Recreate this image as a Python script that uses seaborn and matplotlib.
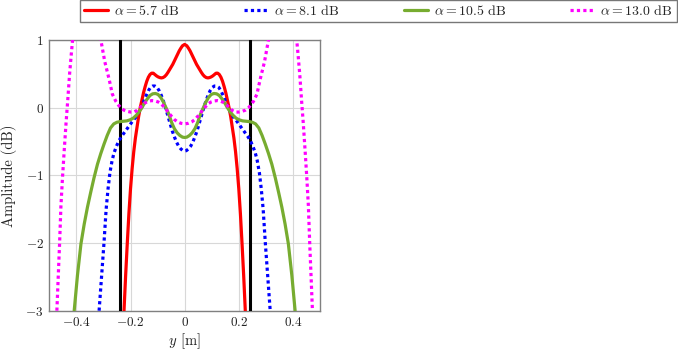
import matplotlib
matplotlib.use("Agg")
import matplotlib.pyplot as plt
import seaborn as sns
import pandas as pd

# ---------------- data ----------------
y_red = [-0.224, -0.218, -0.212, -0.206, -0.200, -0.194, -0.188, -0.182, -0.176, -0.170,
         -0.164, -0.158, -0.152, -0.146, -0.140, -0.134, -0.128, -0.122, -0.116, -0.110,
         -0.104, -0.098, -0.092, -0.086, -0.080, -0.074, -0.068, -0.062, -0.056, -0.050,
         -0.044, -0.038, -0.032, -0.026, -0.020, -0.014, -0.008, 0.000,
         0.008, 0.014, 0.020, 0.026, 0.032, 0.038, 0.044, 0.050, 0.056, 0.062,
         0.068, 0.074, 0.080, 0.086, 0.092, 0.098, 0.104, 0.110, 0.116, 0.122,
         0.128, 0.134, 0.140, 0.146, 0.152, 0.158, 0.164, 0.170, 0.176, 0.182,
         0.188, 0.194, 0.200, 0.206, 0.212, 0.218, 0.224]
a_red = [-3.00, -2.48, -2.01, -1.57, -1.20, -0.90, -0.65, -0.45, -0.29, -0.13,
         0.00, 0.11, 0.22, 0.31, 0.39, 0.45, 0.49, 0.51, 0.51, 0.49,
         0.47, 0.455, 0.445, 0.44, 0.445, 0.46, 0.485, 0.52, 0.56, 0.60,
         0.64, 0.69, 0.74, 0.79, 0.84, 0.88, 0.915, 0.935,
         0.915, 0.88, 0.84, 0.79, 0.74, 0.69, 0.64, 0.60, 0.56, 0.52,
         0.485, 0.46, 0.445, 0.44, 0.445, 0.455, 0.47, 0.49, 0.51, 0.51,
         0.49, 0.45, 0.39, 0.31, 0.22, 0.11, 0.00, -0.13, -0.29, -0.45,
         -0.65, -0.90, -1.20, -1.57, -2.01, -2.48, -3.00]

y_blue = [-0.316, -0.307, -0.298, -0.290, -0.283, -0.276, -0.268, -0.261, -0.252, -0.243,
          -0.234, -0.225, -0.216, -0.207, -0.198, -0.189, -0.180, -0.172, -0.164, -0.157,
          -0.150, -0.142, -0.134, -0.126, -0.118, -0.110, -0.102, -0.094, -0.086, -0.078,
          -0.070, -0.062, -0.054, -0.046, -0.038, -0.030, -0.022, -0.014, -0.006, 0.000,
          0.006, 0.014, 0.022, 0.030, 0.038, 0.046, 0.054, 0.062, 0.070, 0.078,
          0.086, 0.094, 0.102, 0.110, 0.118, 0.126, 0.134, 0.142, 0.150, 0.157,
          0.164, 0.172, 0.180, 0.189, 0.198, 0.207, 0.216, 0.225, 0.234, 0.243,
          0.252, 0.261, 0.268, 0.276, 0.283, 0.290, 0.298, 0.307, 0.316]
a_blue = [-3.00, -2.50, -2.00, -1.50, -1.20, -0.96, -0.78, -0.67, -0.57, -0.49,
          -0.43, -0.38, -0.33, -0.28, -0.23, -0.18, -0.14, -0.08, -0.03, 0.02,
          0.10, 0.18, 0.25, 0.30, 0.32, 0.32, 0.30, 0.25, 0.18, 0.09,
          -0.01, -0.12, -0.23, -0.34, -0.43, -0.51, -0.57, -0.61, -0.635, -0.64,
          -0.635, -0.61, -0.57, -0.51, -0.43, -0.34, -0.23, -0.12, -0.01, 0.09,
          0.18, 0.25, 0.30, 0.32, 0.32, 0.30, 0.25, 0.18, 0.10, 0.02,
          -0.03, -0.08, -0.14, -0.18, -0.23, -0.28, -0.33, -0.38, -0.43, -0.49,
          -0.57, -0.67, -0.78, -0.96, -1.20, -1.50, -2.00, -2.50, -3.00]

y_green = [-0.408, -0.396, -0.383, -0.371, -0.359, -0.347, -0.335, -0.322, -0.310, -0.298,
           -0.286, -0.274, -0.262, -0.250, -0.238, -0.226, -0.214, -0.202, -0.190, -0.178,
           -0.168, -0.158, -0.148, -0.138, -0.128, -0.118, -0.108, -0.098, -0.088, -0.078,
           -0.068, -0.058, -0.048, -0.038, -0.028, -0.018, -0.008, 0.000,
           0.008, 0.018, 0.028, 0.038, 0.048, 0.058, 0.068, 0.078, 0.088, 0.098,
           0.108, 0.118, 0.128, 0.138, 0.148, 0.158, 0.168, 0.178, 0.190, 0.202,
           0.214, 0.226, 0.238, 0.250, 0.262, 0.274, 0.286, 0.298, 0.310, 0.322,
           0.335, 0.347, 0.359, 0.371, 0.383, 0.396, 0.408]
a_green = [-3.00, -2.48, -2.01, -1.72, -1.47, -1.25, -1.04, -0.835, -0.68, -0.54,
           -0.41, -0.30, -0.24, -0.215, -0.205, -0.20, -0.195, -0.18, -0.155, -0.11,
           -0.06, 0.00, 0.07, 0.13, 0.18, 0.205, 0.21, 0.195, 0.15, 0.08,
           -0.01, -0.10, -0.22, -0.31, -0.37, -0.41, -0.435, -0.44,
           -0.435, -0.41, -0.37, -0.31, -0.22, -0.10, -0.01, 0.08, 0.15, 0.195,
           0.21, 0.205, 0.18, 0.13, 0.07, 0.00, -0.06, -0.11, -0.155, -0.18,
           -0.195, -0.20, -0.205, -0.215, -0.24, -0.30, -0.41, -0.54, -0.68, -0.835,
           -1.04, -1.25, -1.47, -1.72, -2.01, -2.48, -3.00]

y_mag = [-0.472, -0.467, -0.462, -0.457, -0.451, -0.445, -0.438, -0.432, -0.425, -0.419,
         -0.414, -0.405, -0.390, -0.370, -0.350, -0.330, -0.315, -0.310, -0.295, -0.279,
         -0.267, -0.255, -0.245, -0.236, -0.225, -0.212, -0.199, -0.188, -0.176, -0.165,
         -0.155, -0.145, -0.133, -0.121, -0.110, -0.098, -0.086, -0.074, -0.062, -0.050,
         -0.038, -0.026, -0.014, 0.000,
         0.014, 0.026, 0.038, 0.050, 0.062, 0.074, 0.086, 0.098, 0.110, 0.121,
         0.133, 0.145, 0.155, 0.165, 0.176, 0.188, 0.199, 0.212, 0.225, 0.236,
         0.245, 0.255, 0.267, 0.279, 0.295, 0.310, 0.315, 0.330, 0.350, 0.370,
         0.390, 0.405, 0.414, 0.419, 0.425, 0.432, 0.438, 0.445, 0.451, 0.457,
         0.462, 0.467, 0.472]
a_mag = [-3.00, -2.50, -2.01, -1.45, -1.02, -0.64, -0.22, 0.10, 0.50, 0.78,
         1.00, 1.35, 1.75, 1.95, 1.90, 1.60, 1.15, 1.01, 0.68, 0.42,
         0.20, 0.10, 0.04, 0.00, -0.035, -0.055, -0.065, -0.065, -0.04, 0.00,
         0.04, 0.075, 0.095, 0.105, 0.10, 0.085, 0.055, 0.00, -0.06, -0.12,
         -0.175, -0.21, -0.23, -0.24,
         -0.23, -0.21, -0.175, -0.12, -0.06, 0.00, 0.055, 0.085, 0.10, 0.105,
         0.095, 0.075, 0.04, 0.00, -0.04, -0.065, -0.065, -0.055, -0.035, 0.00,
         0.04, 0.10, 0.20, 0.42, 0.68, 1.01, 1.15, 1.60, 1.90, 1.95,
         1.75, 1.35, 1.00, 0.78, 0.50, 0.10, -0.22, -0.64, -1.02, -1.45,
         -2.01, -2.50, -3.00]

labels = [r"$\alpha = 5.7$ dB", r"$\alpha = 8.1$ dB", r"$\alpha = 10.5$ dB", r"$\alpha = 13.0$ dB"]
bound_y = [-0.24, 0.24]
x_ticks = [-0.4, -0.2, 0, 0.2, 0.4]
y_ticks = [-3, -2, -1, 0, 1]

# ---------------- build table ----------------
frames = []
for lab, xs, ys in zip(labels, [y_red, y_blue, y_green, y_mag], [a_red, a_blue, a_green, a_mag]):
    frames.append(pd.DataFrame({"y": xs, "amp": ys, "series": lab}))
df = pd.concat(frames, ignore_index=True)

# ---------------- style ----------------
sns.set_theme(style="whitegrid")
plt.rcParams.update({
    "font.family": ["cmr10", "DejaVu Serif"],
    "mathtext.fontset": "cm",
    "axes.formatter.use_mathtext": True,
    "axes.unicode_minus": True,
    "font.size": 9,
})

fig = plt.figure(figsize=(6.78, 3.51), dpi=100)
ax = fig.add_axes([0.0727, 0.1148, 0.3993, 0.7712])

palette = {labels[0]: "#ff0000", labels[1]: "#0000ff", labels[2]: "#77ac30", labels[3]: "#ff00ff"}
dashes = {labels[0]: "", labels[1]: (1, 1), labels[2]: "", labels[3]: (1, 1)}

for xv in bound_y:
    ax.axvline(xv, color="black", lw=2.2, zorder=3)

sns.lineplot(data=df, x="y", y="amp", hue="series", style="series",
             palette=palette, dashes=dashes, estimator=None, sort=False,
             lw=2.3, ax=ax, zorder=4)

ax.set_xlim(-0.5, 0.5)
ax.set_ylim(-3, 1)
ax.set_xticks(x_ticks)
ax.set_yticks(y_ticks)
ax.set_xticklabels(["$-0.4$", "$-0.2$", "$0$", "$0.2$", "$0.4$"])
ax.set_yticklabels(["$-3$", "$-2$", "$-1$", "$0$", "$1$"])
ax.tick_params(labelsize=9.5, length=0, pad=4, colors="#222222")
ax.set_xlabel(r"$y$ [m]", fontsize=10.5, labelpad=1.5, color="#222222")
ax.set_ylabel("Amplitude (dB)", fontsize=10.5, labelpad=6, color="#222222")
ax.grid(True, color="#d8d8d8", lw=0.8)
for s in ax.spines.values():
    s.set_visible(True)
    s.set_color("#808080")
    s.set_linewidth(1.0)
ax.set_facecolor("white")

handles, labs = ax.get_legend_handles_labels()
ax.get_legend().remove()
leg = fig.legend(handles, labs, loc="lower left", ncol=4, mode="expand",
                 bbox_to_anchor=(0.118, 0.936, 0.8805, 0.0625),
                 frameon=True, fancybox=False, fontsize=10,
                 handlelength=1.75, handletextpad=0.4, borderaxespad=0,
                 borderpad=0.3)
leg.get_frame().set_edgecolor("#555555")
leg.get_frame().set_linewidth(1.0)

fig.savefig("out.png", dpi=100)
